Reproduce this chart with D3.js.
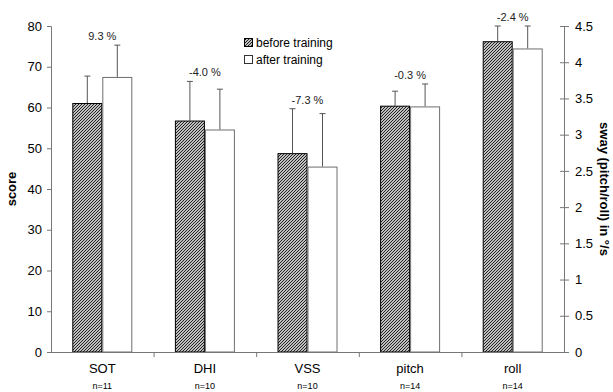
<!DOCTYPE html>
<html>
<head>
<meta charset="utf-8">
<script src="https://cdn.jsdelivr.net/npm/d3@7"></script>
<style>
  html, body { margin: 0; padding: 0; background: #fff; }
  svg { display: block; font-family: "Liberation Sans", Arial, sans-serif; }
</style>
</head>
<body>
<svg id="chart" width="613" height="392"></svg>
<script>
// Balance test results: score measures (left axis) and sway velocity (right axis)
const categories = ["SOT", "DHI", "VSS", "pitch", "roll"];
const sampleSizes = ["n=11", "n=10", "n=10", "n=14", "n=14"];
const axisOf = ["left", "left", "left", "right", "right"];
const beforeMean = [61.1, 56.8, 48.8, 3.40, 4.29];
const beforeSD   = [6.6, 9.6, 10.9, 0.20, 0.21];
const afterMean  = [67.5, 54.6, 45.5, 3.39, 4.19];
const afterSD    = [7.8, 9.9, 13.0, 0.31, 0.31];
const changeLabels = ["9.3 %", "-4.0 %", "-7.3 %", "-0.3 %", "-2.4 %"];
const leftTicks = [0, 10, 20, 30, 40, 50, 60, 70, 80];
const rightTicks = [0, 0.5, 1, 1.5, 2, 2.5, 3, 3.5, 4, 4.5];
const seriesNames = ["before training", "after training"];

const svg = d3.select("#chart");
const m = { left: 51, right: 564, top: 26, bottom: 352 };

const x = d3.scaleBand().domain(categories).range([m.left, m.right]).paddingInner(0).paddingOuter(0);
const yL = d3.scaleLinear().domain([0, 80]).range([m.bottom, m.top]);
const yR = d3.scaleLinear().domain([0, 4.5]).range([m.bottom, m.top]);
const yFor = i => axisOf[i] === "left" ? yL : yR;

const inner = d3.scaleBand().domain([0, 1]).range([0, x.bandwidth()]).paddingOuter(0.71).paddingInner(0);

// fine diagonal hatch for the "before" bars
const defs = svg.append("defs");
const pat = defs.append("pattern")
  .attr("id", "hatch").attr("patternUnits", "userSpaceOnUse")
  .attr("width", 3).attr("height", 3);
pat.append("rect").attr("width", 3).attr("height", 3).attr("fill", "#fff");
pat.append("path").attr("d", "M-1,1L1,-1M0,3L3,0M2,4L4,2")
  .attr("stroke", "#151515").attr("stroke-width", 1.05);

// bars
const series = [
  { mean: beforeMean, sd: beforeSD, fill: "url(#hatch)", stroke: "#000" },
  { mean: afterMean, sd: afterSD, fill: "#fff", stroke: "#6e6e6e" }
];

series.forEach((s, si) => {
  const g = svg.append("g");
  categories.forEach((c, i) => {
    const y = yFor(i);
    const x0 = x(c) + inner(si);
    const w = inner.bandwidth();
    // error bar (upper only)
    const cx = x0 + w / 2;
    g.append("line")
      .attr("x1", cx).attr("x2", cx)
      .attr("y1", y(s.mean[i])).attr("y2", y(s.mean[i] + s.sd[i]))
      .attr("stroke", "#555").attr("stroke-width", 1);
    g.append("line")
      .attr("x1", cx - 3).attr("x2", cx + 3)
      .attr("y1", y(s.mean[i] + s.sd[i])).attr("y2", y(s.mean[i] + s.sd[i]))
      .attr("stroke", "#555").attr("stroke-width", 1);
    g.append("rect")
      .attr("x", x0 + 0.5).attr("y", y(s.mean[i]) + 0.5)
      .attr("width", w - 1).attr("height", y(0) - y(s.mean[i]) - 0.5)
      .attr("fill", s.fill).attr("stroke", s.stroke).attr("stroke-width", 1);
  });
});

// percent change labels above each pair
categories.forEach((c, i) => {
  const y = yFor(i);
  const top = Math.max(beforeMean[i] + beforeSD[i], afterMean[i] + afterSD[i]);
  svg.append("text")
    .attr("x", x(c) + x.bandwidth() / 2)
    .attr("y", y(top) - 9)
    .attr("dy", "0.35em")
    .attr("text-anchor", "middle")
    .attr("font-size", 11).attr("fill", "#222")
    .text(changeLabels[i]);
});

// left axis
const leftAxis = svg.append("g").attr("transform", `translate(${m.left},0)`)
  .call(d3.axisLeft(yL).tickValues(leftTicks).tickSize(4).tickPadding(5));
leftAxis.select(".domain").attr("stroke", "#777").attr("d", `M-4,${m.top + 0.5}H0.5V${m.bottom}`);
leftAxis.selectAll(".tick line").attr("stroke", "#777");
leftAxis.selectAll("text").attr("font-size", 13).attr("fill", "#000").attr("font-family", "Liberation Sans, Arial, sans-serif");

// right axis with ticks crossing the line
const rightAxis = svg.append("g").attr("transform", `translate(${m.right},0)`)
  .call(d3.axisRight(yR).tickValues(rightTicks).tickSize(4).tickPadding(7).tickFormat(d3.format("")));
rightAxis.select(".domain").attr("stroke", "#777").attr("d", `M0.5,${m.top}V${m.bottom}`);
rightAxis.selectAll(".tick line").attr("stroke", "#777").attr("x1", -4).attr("x2", 5);
rightAxis.selectAll("text").attr("font-size", 13).attr("fill", "#000").attr("font-family", "Liberation Sans, Arial, sans-serif");

// bottom axis: ticks at category boundaries
const bottom = svg.append("g");
bottom.append("line").attr("x1", m.left).attr("x2", m.right)
  .attr("y1", m.bottom + 0.5).attr("y2", m.bottom + 0.5).attr("stroke", "#777");
categories.forEach((c, i) => {
  const bx = x(c) + x.bandwidth();
  if (i < categories.length - 1) {
    bottom.append("line").attr("x1", bx + 0.5).attr("x2", bx + 0.5)
      .attr("y1", m.bottom).attr("y2", m.bottom + 5).attr("stroke", "#777");
  }
  bottom.append("text")
    .attr("x", x(c) + x.bandwidth() / 2).attr("y", m.bottom + 21)
    .attr("text-anchor", "middle").attr("font-size", 13).attr("fill", "#000")
    .text(c);
  bottom.append("text")
    .attr("x", x(c) + x.bandwidth() / 2).attr("y", m.bottom + 37)
    .attr("text-anchor", "middle").attr("font-size", 9).attr("fill", "#000")
    .text(sampleSizes[i]);
});

// axis titles
svg.append("text")
  .attr("transform", `translate(16,${(m.top + m.bottom) / 2}) rotate(-90)`)
  .attr("text-anchor", "middle").attr("font-size", 13).attr("font-weight", "bold")
  .text("score");
svg.append("text")
  .attr("transform", `translate(600,${(m.top + m.bottom) / 2}) rotate(90)`)
  .attr("text-anchor", "middle").attr("font-size", 13).attr("font-weight", "bold")
  .text("sway (pitch/roll) in °/s");

// legend
const legend = svg.append("g").attr("transform", "translate(244,38)");
seriesNames.forEach((name, i) => {
  const row = legend.append("g").attr("transform", `translate(0,${i * 17})`);
  row.append("rect").attr("x", 0.5).attr("y", 0.5).attr("width", 8).attr("height", 8)
    .attr("fill", series[i].fill).attr("stroke", i === 0 ? "#000" : "#333");
  row.append("text").attr("x", 12).attr("y", 4.5).attr("dy", "0.35em")
    .attr("font-size", 12).attr("fill", "#000").text(name);
});
</script>
</body>
</html>
